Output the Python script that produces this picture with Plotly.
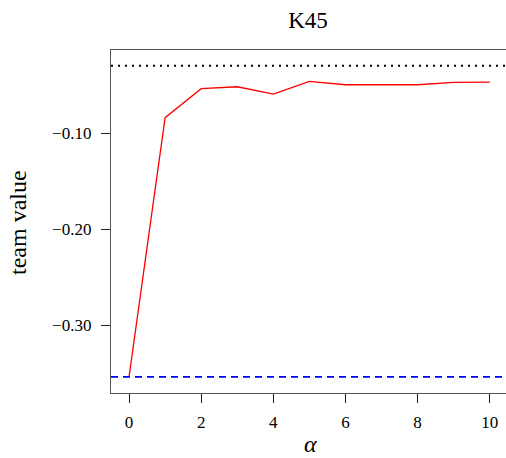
import plotly.graph_objects as go

alpha = [0, 1, 2, 3, 4, 5, 6, 7, 8, 9, 10]
team_value = [-0.354, -0.084, -0.0538, -0.0518, -0.0594, -0.0461, -0.0497, -0.0497, -0.0497, -0.0472, -0.0469]
upper_ref = -0.030
lower_ref = -0.354
x_ticks = [0, 2, 4, 6, 8, 10]
y_ticks = [-0.10, -0.20, -0.30]
y_tick_labels = ["\u22120.10", "\u22120.20", "\u22120.30"]

font = "Liberation Serif, DejaVu Serif, serif"

W, H = 506, 458
L, T, B = 111, 50, 65
pw, ph = W - L, H - T - B

fig = go.Figure()
fig.add_trace(go.Scatter(x=alpha, y=team_value, mode="lines",
                         line=dict(color="#ff0000", width=1.3), showlegend=False))
fig.add_hline(y=upper_ref, line=dict(color="black", width=2, dash="2px,5px"))
fig.add_hline(y=lower_ref, line=dict(color="#0000ff", width=1.6, dash="7px,5px"))

fig.add_annotation(text="team value", xref="paper", yref="paper",
                   x=(18 - L) / pw, y=(H - B - 223) / ph, xanchor="center", yanchor="middle",
                   textangle=-90, showarrow=False, font=dict(family=font, size=24, color="black"))
fig.add_annotation(text="<i>\u03b1</i>", xref="paper", yref="paper",
                   x=(310 - L) / pw, y=(H - B - 444) / ph, xanchor="center", yanchor="middle",
                   showarrow=False, font=dict(family=font, size=24, color="black"))

fig.update_layout(
    width=W, height=H,
    margin=dict(l=L, r=0, t=T, b=B, autoexpand=False),
    paper_bgcolor="white", plot_bgcolor="white",
    title=dict(text="K45", x=308 / W, xanchor="center", xref="container",
               y=1 - 20 / H, yref="container", yanchor="middle",
               font=dict(family=font, size=23, color="black")),
    font=dict(family=font, color="black"),
    xaxis=dict(range=[-0.5, 10.45], tickvals=x_ticks, ticks="outside", ticklen=9,
               tickcolor="#222", showline=True, linecolor="#555", linewidth=1.3,
               mirror=True, showgrid=False, zeroline=False, automargin=False,
               tickfont=dict(family=font, size=17), ticklabelstandoff=4),
    yaxis=dict(range=[-0.3708, -0.0135], tickvals=y_ticks, ticktext=y_tick_labels,
               ticks="outside", ticklen=9, tickcolor="#222", showline=True,
               linecolor="#555", linewidth=1.3, showgrid=False, zeroline=False,
               automargin=False, ticklabelstandoff=6,
               tickfont=dict(family=font, size=17)),
)

fig.write_html("out.html", config={"displayModeBar": False},
               post_script="document.body.style.margin='0px';document.body.style.overflow='hidden';")
